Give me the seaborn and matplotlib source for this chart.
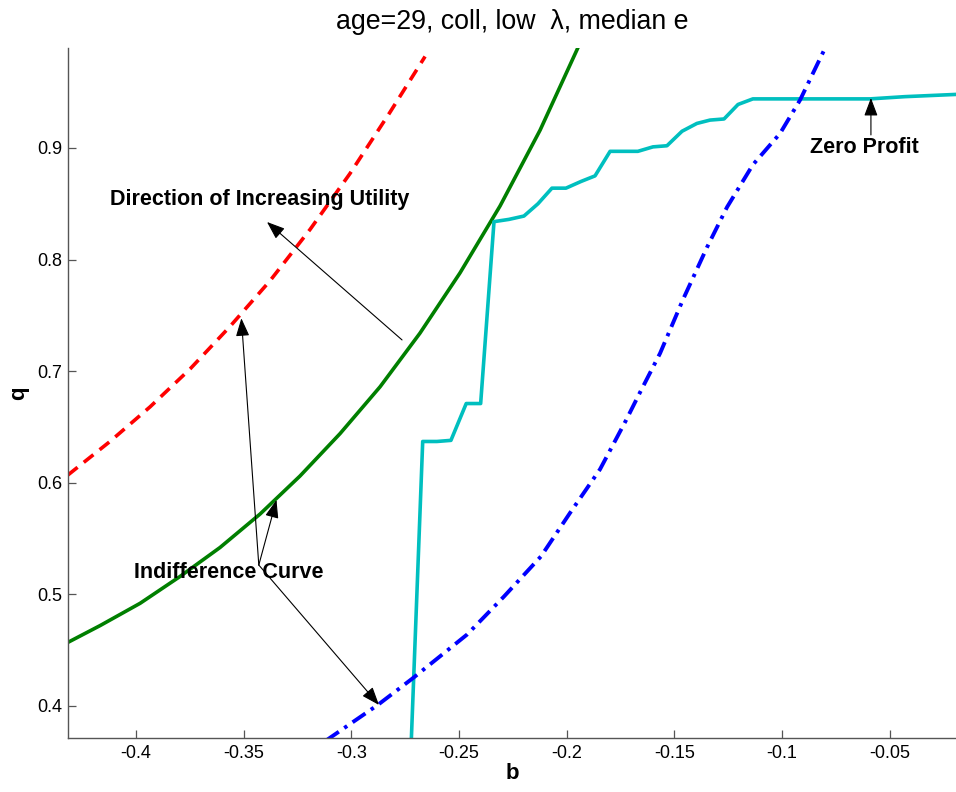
import matplotlib
matplotlib.use("Agg")
import matplotlib.pyplot as plt
import seaborn as sns
import pandas as pd

# Indifference curve through the higher-utility contract (red, dashed)
red_b = [-0.4316, -0.4121, -0.3935, -0.3749, -0.3564, -0.3378, -0.3192,
         -0.3007, -0.2821, -0.2658]
red_q = [0.607, 0.637, 0.668, 0.702, 0.740, 0.781, 0.827,
         0.877, 0.932, 0.982]

# Indifference curve through the chosen contract (green, solid)
green_b = [-0.4316, -0.4167, -0.3981, -0.3796, -0.3610, -0.3424, -0.3239,
           -0.3053, -0.2867, -0.2682, -0.2496, -0.2310, -0.2124, -0.1948]
green_q = [0.457, 0.472, 0.492, 0.516, 0.542, 0.572, 0.606,
           0.644, 0.686, 0.734, 0.788, 0.848, 0.916, 0.990]

# Indifference curve through the lower contract (blue, dash-dot)
blue_b = [-0.3118, -0.2877, -0.2714, -0.2463, -0.2292, -0.2120, -0.1985,
          -0.1846, -0.1725, -0.1660, -0.1567, -0.1461, -0.1349, -0.1256,
          -0.1136, -0.1010, -0.0917, -0.0857, -0.0797]
blue_q = [0.369, 0.401, 0.425, 0.464, 0.498, 0.534, 0.573,
          0.612, 0.656, 0.681, 0.716, 0.764, 0.811, 0.847,
          0.885, 0.913, 0.943, 0.967, 0.991]

# Zero-profit frontier (cyan)
zp_b = [-0.2736, -0.2669, -0.2603, -0.2538, -0.2467, -0.2400, -0.2338,
        -0.2269, -0.2199, -0.2134, -0.2069, -0.2004, -0.1934, -0.1869,
        -0.1799, -0.1735, -0.1670, -0.1600, -0.1535, -0.1465, -0.1396,
        -0.1335, -0.1270, -0.1205, -0.1136, -0.1057, -0.0900, -0.0750,
        -0.0592, -0.0430, -0.0193]
zp_q = [0.298, 0.637, 0.637, 0.638, 0.671, 0.671, 0.834,
        0.836, 0.839, 0.850, 0.864, 0.864, 0.870, 0.875,
        0.897, 0.897, 0.897, 0.901, 0.902, 0.915, 0.922,
        0.925, 0.926, 0.939, 0.944, 0.944, 0.944, 0.944,
        0.944, 0.946, 0.948]

x_ticks = [-0.4, -0.35, -0.3, -0.25, -0.2, -0.15, -0.1, -0.05]
x_tick_labels = ["-0.4", "-0.35", "-0.3", "-0.25", "-0.2", "-0.15", "-0.1", "-0.05"]
y_ticks = [0.4, 0.5, 0.6, 0.7, 0.8, 0.9]
y_tick_labels = ["0.4", "0.5", "0.6", "0.7", "0.8", "0.9"]

sns.set_style("ticks")
plt.rcParams["font.family"] = ["Liberation Sans", "DejaVu Sans"]
plt.rcParams["text.color"] = "black"
plt.rcParams["axes.labelcolor"] = "black"

fig = plt.figure(figsize=(9.56, 7.92), dpi=100)
ax = fig.add_axes([0.0711, 0.0682, 0.9289, 0.8712])

lw = 2.6
sns.lineplot(data=pd.DataFrame({"b": red_b, "q": red_q}), x="b", y="q",
             color="#ff0000", lw=lw, sort=False, estimator=None, ax=ax)
ax.lines[-1].set_linestyle((0, (3.4, 2.2)))
sns.lineplot(data=pd.DataFrame({"b": green_b, "q": green_q}), x="b", y="q",
             color="#007f00", lw=lw, sort=False, estimator=None, ax=ax)
sns.lineplot(data=pd.DataFrame({"b": zp_b, "q": zp_q}), x="b", y="q",
             color="#00bfbf", lw=lw, sort=False, estimator=None, ax=ax)
sns.lineplot(data=pd.DataFrame({"b": blue_b, "q": blue_q}), x="b", y="q",
             color="#0000ff", lw=lw + 0.2, sort=False, estimator=None, ax=ax)
ax.lines[-1].set_linestyle((0, (4.0, 1.7, 0.9, 1.7)))

ax.set_xlim(-0.4316, -0.0193)
ax.set_ylim(0.3713, 0.9896)

ax.set_xticks(x_ticks)
ax.set_xticklabels(x_tick_labels)
ax.set_yticks(y_ticks)
ax.set_yticklabels(y_tick_labels)
ax.tick_params(direction="in", length=6, width=0.9, color="#555555",
               labelsize=13, labelcolor="black")
ax.tick_params(axis="x", pad=5)
ax.tick_params(axis="y", pad=4)

for side in ("top", "right"):
    ax.spines[side].set_visible(False)
for side in ("left", "bottom"):
    ax.spines[side].set_color("#555555")
    ax.spines[side].set_linewidth(1.0)

ax.set_xlabel("b", fontsize=16, fontweight="bold")
ax.set_ylabel("q", fontsize=16, fontweight="bold")
ax.xaxis.set_label_coords(0.5, -0.036)
ax.yaxis.set_label_coords(-0.044, 0.5)
ax.set_title("age=29, coll, low  \u03bb, median e", fontsize=19.3, pad=14)

arrow = dict(arrowstyle="-|>,head_length=0.85,head_width=0.32",
             color="black", lw=0.8, shrinkA=0, shrinkB=0, mutation_scale=13)
txt = dict(fontsize=15.5, fontweight="bold", ha="center", va="center")

ax.annotate("", xy=(-0.3392, 0.8337), xytext=(-0.2765, 0.7280), arrowprops=arrow)
ax.text(-0.3424, 0.8534, "Direction of Increasing Utility", **txt)

for tip in [(-0.3511, 0.7474), (-0.3348, 0.5846), (-0.2872, 0.4009)]:
    ax.annotate("", xy=tip, xytext=(-0.3430, 0.5263), arrowprops=arrow)
ax.text(-0.3571, 0.5192, "Indifference Curve", **txt)

ax.annotate("", xy=(-0.0588, 0.9448), xytext=(-0.0588, 0.9117), arrowprops=arrow)
ax.text(-0.0620, 0.9000, "Zero Profit", **txt)

fig.savefig("out.png", dpi=100)
